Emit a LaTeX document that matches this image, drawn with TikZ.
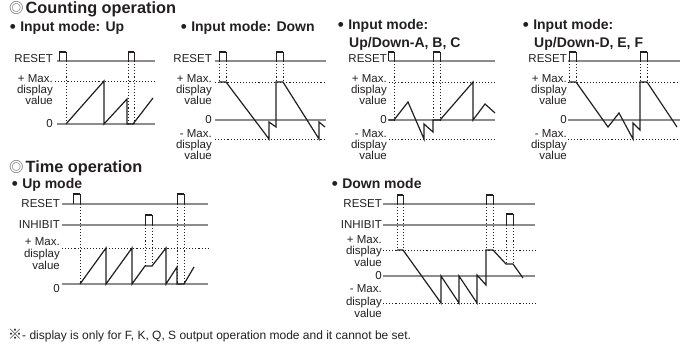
\documentclass[tikz,border=0pt]{standalone}
\usepackage{fontspec}
\setmainfont{Liberation Sans}
\newfontfamily\cjk{Noto Sans CJK JP}
\usetikzlibrary{positioning}
\definecolor{ink}{RGB}{35,31,32}
\definecolor{linegray}{RGB}{140,140,140}
\definecolor{markgray}{RGB}{120,120,120}
\tikzset{
  lbl/.style={anchor=base east, inner sep=0pt, text=ink,
    font=\fontsize{11.5}{11}\selectfont},
  lblblock/.style={anchor=north east, inner sep=0pt, align=right, text=ink,
    font=\fontsize{11.5}{11}\selectfont},
  title/.style={anchor=base west, inner sep=0pt, text=ink,
    font=\fontsize{16.3}{17}\selectfont\bfseries},
  sub/.style={anchor=base west, inner sep=0pt, text=ink,
    font=\fontsize{14}{15}\selectfont\bfseries},
  axis/.style={draw=linegray, line width=1.3pt},
  level/.style={draw=ink, line width=0.8pt, dash pattern=on 1.1pt off 2pt},
  wave/.style={draw=ink, line width=1.2pt, line join=miter, line cap=butt}
}
% reset / inhibit pulse: left x, right x, base y, top y
\newcommand{\sigpulse}[4]{%
  \draw[ink, line width=0.9pt] (#1,#3) -- (#1,#4) -- (#2,#4) -- (#2,#3);
  \draw[ink, line width=2.2pt] (#1,#4) -- (#2,#4);}
\newcommand{\bul}{{\fontsize{17}{17}\selectfont\raisebox{-1pt}{•}}\hspace{4.5pt}}
\newcommand{\dmark}{{\cjk\fontsize{14.5}{14.5}\selectfont\color{markgray}◎}\hspace{2pt}}

\begin{document}
\begin{tikzpicture}[x=1pt, y=-1pt]
\useasboundingbox (0,0) rectangle (680,347);

% headings
\node[title] (cnt) at (9,14) {\dmark Counting operation};
\node[title] (tim) at (9,173) {\dmark Time operation};
\node[sub] (up) at (9.6,32) {\bul Input mode: Up};
\node[sub] (dn) at (180.6,32) {\bul Input mode: Down};
\node[sub] (abc) at (337.6,30) {\bul Input mode:};
\node[sub] (abc2) at (349,47.5) {Up/Down-A, B, C};
\node[sub] (def) at (522.6,30) {\bul Input mode:};
\node[sub] (def2) at (534,47.5) {Up/Down-D, E, F};
\node[sub] (tup) at (11.6,189) {\bul Up mode};
\node[sub] (tdn) at (331.6,189) {\bul Down mode};

% --- counting, up
\node[lbl] (r1) at (53,62.5) {RESET};
\node[lblblock] (m1) at (53,74.7) {+ Max.\\display\\value};
\node[lbl] (z1) at (53,128) {0};
\draw[axis] (57,61) -- (155,61);
\draw[axis] (57,124) -- (155,124);
\draw[level] (55,81) -- (155,81);
\sigpulse{59}{66}{61}{52}
\sigpulse{128}{134}{61}{52}
\draw[level] (66,61) -- (66,124);
\draw[level] (128,61) -- (128,124);
\draw[level] (134,61) -- (134,124);
\draw[wave] (66,124) -- (104,81) -- (104,124) -- (127,99) -- (127,124)
  -- (133,124) -- (153,98);

% --- counting, down
\node[lbl] (r2) at (212,62.5) {RESET};
\node[lblblock] (m2) at (212,74.7) {+ Max.\\display\\value};
\node[lbl] (z2) at (212,124) {0};
\node[lblblock] (n2) at (212,129.2) {- Max.\\display\\value};
\draw[axis] (215,61) -- (326,61);
\draw[axis] (215,120) -- (326,120);
\draw[level] (215,82) -- (326,82);
\draw[level] (215,139) -- (326,139);
\sigpulse{219}{226}{61}{52}
\sigpulse{276}{283}{61}{52}
\foreach \x in {219,226,276,283}
  \draw[level] (\x,61) -- (\x,82);
\draw[wave] (219,82) -- (226,82) -- (269,139) -- (269,122) -- (276,127)
  -- (276,82) -- (283,82) -- (319,139) -- (319,122) -- (325,127);

% --- counting, up/down A B C
\node[lbl] (r3) at (387,62.5) {RESET};
\node[lblblock] (m3) at (387,74.7) {+ Max.\\display\\value};
\node[lbl] (z3) at (387,124) {0};
\node[lblblock] (n3) at (387,129.2) {- Max.\\display\\value};
\draw[axis] (389,61) -- (495,61);
\draw[axis] (389,120) -- (495,120);
\draw[level] (389,82) -- (495,82);
\draw[level] (389,139) -- (495,139);
\sigpulse{388}{394}{61}{52}
\sigpulse{433}{440}{61}{52}
\foreach \x in {394,433,440}
  \draw[level] (\x,61) -- (\x,120);
\draw[wave] (388,120) -- (394,120) -- (408,102) -- (424,139) -- (424,124)
  -- (433,132) -- (433,120) -- (440,120) -- (473,82) -- (473,120)
  -- (485,104) -- (495,113);

% --- counting, up/down D E F
\node[lbl] (r4) at (567,62.5) {RESET};
\node[lblblock] (m4) at (567,74.7) {+ Max.\\display\\value};
\node[lbl] (z4) at (567,124) {0};
\node[lblblock] (n4) at (567,129.2) {- Max.\\display\\value};
\draw[axis] (568,61) -- (680,61);
\draw[axis] (568,120) -- (680,120);
\draw[level] (568,82) -- (680,82);
\draw[level] (568,139) -- (680,139);
\sigpulse{569}{576}{61}{52}
\sigpulse{640}{647}{61}{52}
\foreach \x in {569,576,640,647}
  \draw[level] (\x,61) -- (\x,82);
\draw[wave] (569,82) -- (576,82) -- (608,127) -- (619,113) -- (633,139)
  -- (633,123) -- (640,130) -- (640,82) -- (647,82) -- (677,127);

% --- time, up
\node[lbl] (r5) at (60,208) {RESET};
\node[lbl] (i5) at (60,228.5) {INHIBIT};
\node[lblblock, font=\fontsize{11.5}{12}\selectfont] (m5) at (60,237.7) {+ Max.\\display\\value};
\node[lbl] (z5) at (60,292.5) {0};
\draw[axis] (62,204) -- (208,204);
\draw[axis] (62,225) -- (208,225);
\draw[axis] (62,284) -- (208,284);
\draw[level] (62,248) -- (208,248);
\sigpulse{73}{80}{204}{194}
\sigpulse{177}{184}{204}{194}
\sigpulse{145}{152}{225}{215}
\foreach \x in {80,177,184}
  \draw[level] (\x,204) -- (\x,284);
\foreach \x in {145,152}
  \draw[level] (\x,225) -- (\x,266);
\draw[wave] (80,284) -- (106,248) -- (106,284) -- (132,248) -- (132,284)
  -- (145,266) -- (152,266) -- (166,248) -- (166,284) -- (177,267)
  -- (177,284) -- (184,284) -- (194,267);

% --- time, down
\node[lbl] (r6) at (382,208) {RESET};
\node[lbl] (i6) at (382,229) {INHIBIT};
\node[lblblock, font=\fontsize{11.5}{10.5}\selectfont] (m6) at (382,235.7) {+ Max.\\display\\value};
\node[lbl] (z6) at (382,280) {0};
\node[lblblock, font=\fontsize{11.5}{12.5}\selectfont] (n6) at (382,284.7) {- Max.\\display\\value};
\draw[axis] (383,204) -- (535,204);
\draw[axis] (383,225) -- (535,225);
\draw[axis] (383,276) -- (535,276);
\draw[level] (383,250) -- (535,250);
\draw[level] (383,303) -- (535,303);
\sigpulse{397}{403}{204}{195}
\sigpulse{486}{493}{204}{195}
\sigpulse{506}{513}{225}{214}
\foreach \x in {397,403,486,493}
  \draw[level] (\x,204) -- (\x,250);
\foreach \x in {506,513}
  \draw[level] (\x,225) -- (\x,264);
\draw[wave] (397,250) -- (403,250) -- (441,303) -- (441,276) -- (459,303)
  -- (459,276) -- (477,303) -- (477,275) -- (486,285) -- (486,250)
  -- (493,250) -- (506,264) -- (513,264) -- (523,278);

% note
\node[anchor=base west, inner sep=0pt, text=ink, font=\fontsize{12}{12}\selectfont] (note) at (8,339)
  {{\cjk\fontsize{14}{14}\selectfont ※}- display is only for F, K, Q, S output operation mode and it cannot be set.};
\end{tikzpicture}
\end{document}
